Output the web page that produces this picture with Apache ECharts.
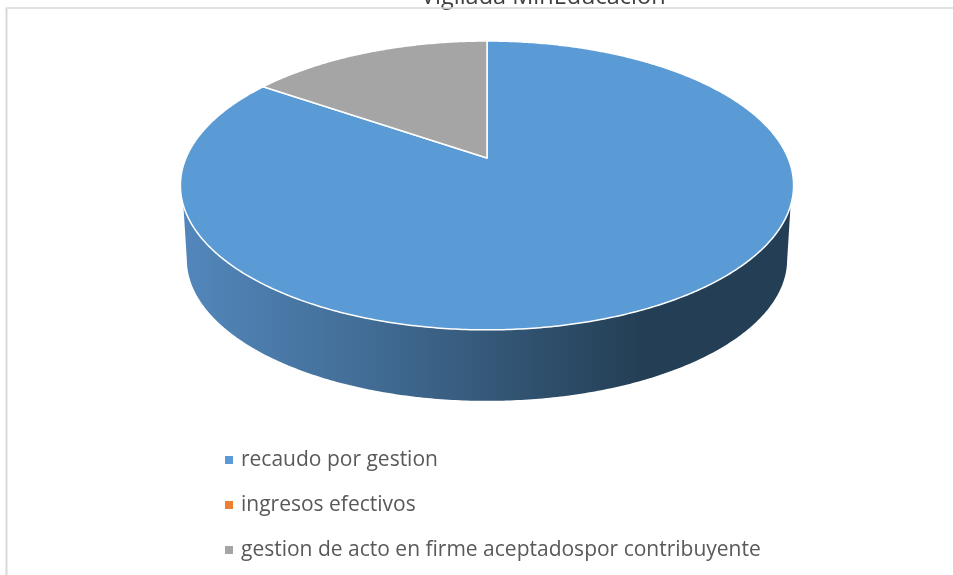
<!DOCTYPE html>
<html><head><meta charset="utf-8">
<style>html,body{margin:0;padding:0;background:#fff;overflow:hidden}#c{width:953px;height:575px}</style>
<script src="https://cdn.jsdelivr.net/npm/echarts@6/dist/echarts.min.js"></script>
</head><body><div id="c"></div>
<script>
const titleText = "Vigilada MinEducación";
const categories = ["recaudo por gestion", "ingresos efectivos", "gestion de acto en firme aceptadospor contribuyente"];
const values = [84.6, 0, 15.4];
const colors = ["#5b9bd5", "#ed7d31", "#a5a5a5"];

const total = values.reduce((a, b) => a + b, 0);
// perspective disc: apex is the projected centre of the pie
const a = 0.19;
function project(theta, scale, apexY) {
  const u = Math.sin(theta), v = Math.cos(theta), d = 1 + a * v;
  return [487 + scale * 301 * u / d, apexY - scale * 139.2 * v / d];
}
function arc(t0, t1, scale, apexY) {
  const n = Math.max(2, Math.ceil((t1 - t0) / 0.01)), pts = [];
  for (let i = 0; i <= n; i++) pts.push({t: t0 + (t1 - t0) * i / n, p: project(t0 + (t1 - t0) * i / n, scale, apexY)});
  return pts;
}
function sliceRender(index) {
  return function () {
    if (!values[index]) return {type: 'group', children: []};
    let before = 0;
    for (let i = 0; i < index; i++) before += values[i];
    const t0 = before / total * 2 * Math.PI, t1 = (before + values[index]) / total * 2 * Math.PI;
    const children = [];
    const topFront = arc(t0, t1, 1, 158).filter(o => Math.cos(o.t) <= -0.317).map(o => o.p);
    const botFront = arc(t0, t1, 0.979, 232.6).filter(o => Math.cos(o.t) <= -0.19).map(o => o.p);
    if (topFront.length > 1 && botFront.length > 1) {
      children.push({
        type: 'polygon',
        shape: {points: topFront.concat(botFront.reverse())},
        style: {
          fill: {type: 'linear', x: 180, y: 0, x2: 793, y2: 0, global: true,
            colorStops: [{offset: 0, color: '#5387bc'}, {offset: 0.3, color: '#426d96'}, {offset: 0.75, color: '#243f55'}, {offset: 1, color: '#243f55'}]},
          stroke: null
        }
      });
    }
    const pts = arc(t0, t1, 1, 158).map(o => o.p);
    pts.unshift([487, 158]);
    children.push({
      type: 'polygon',
      shape: {points: pts},
      style: {fill: colors[index], stroke: '#ffffff', lineWidth: 1.5, lineJoin: 'round'}
    });
    return {type: 'group', children};
  };
}
const chart = echarts.init(document.getElementById('c'), null, {renderer: 'canvas'});
chart.setOption({
  animation: false,
  color: colors,
  title: {
    text: titleText, left: 421, top: -15, padding: 0,
    textStyle: {color: '#404040', fontSize: 23.5, fontWeight: 'normal', fontFamily: 'Open Sans'}
  },
  legend: {
    orient: 'vertical', left: 225, top: 445, padding: 0, itemGap: 15,
    itemWidth: 8, itemHeight: 8, icon: 'rect',
    data: categories,
    textStyle: {color: '#595959', fontSize: 21, fontFamily: 'Open Sans', lineHeight: 30, padding: [0, 0, 0, 3]}
  },
  graphic: [
    {type: 'line', shape: {x1: 6, y1: 8, x2: 953, y2: 8}, style: {stroke: '#d9d9d9', lineWidth: 1.5}, z: 10},
    {type: 'line', shape: {x1: 6.5, y1: 8, x2: 6.5, y2: 575}, style: {stroke: '#d9d9d9', lineWidth: 2}, z: 10}
  ],
  series: categories.map((name, i) => ({
    type: 'custom', name, coordinateSystem: 'none',
    itemStyle: {color: colors[i]},
    data: [values[i]],
    renderItem: sliceRender(i)
  }))
});
</script></body></html>
